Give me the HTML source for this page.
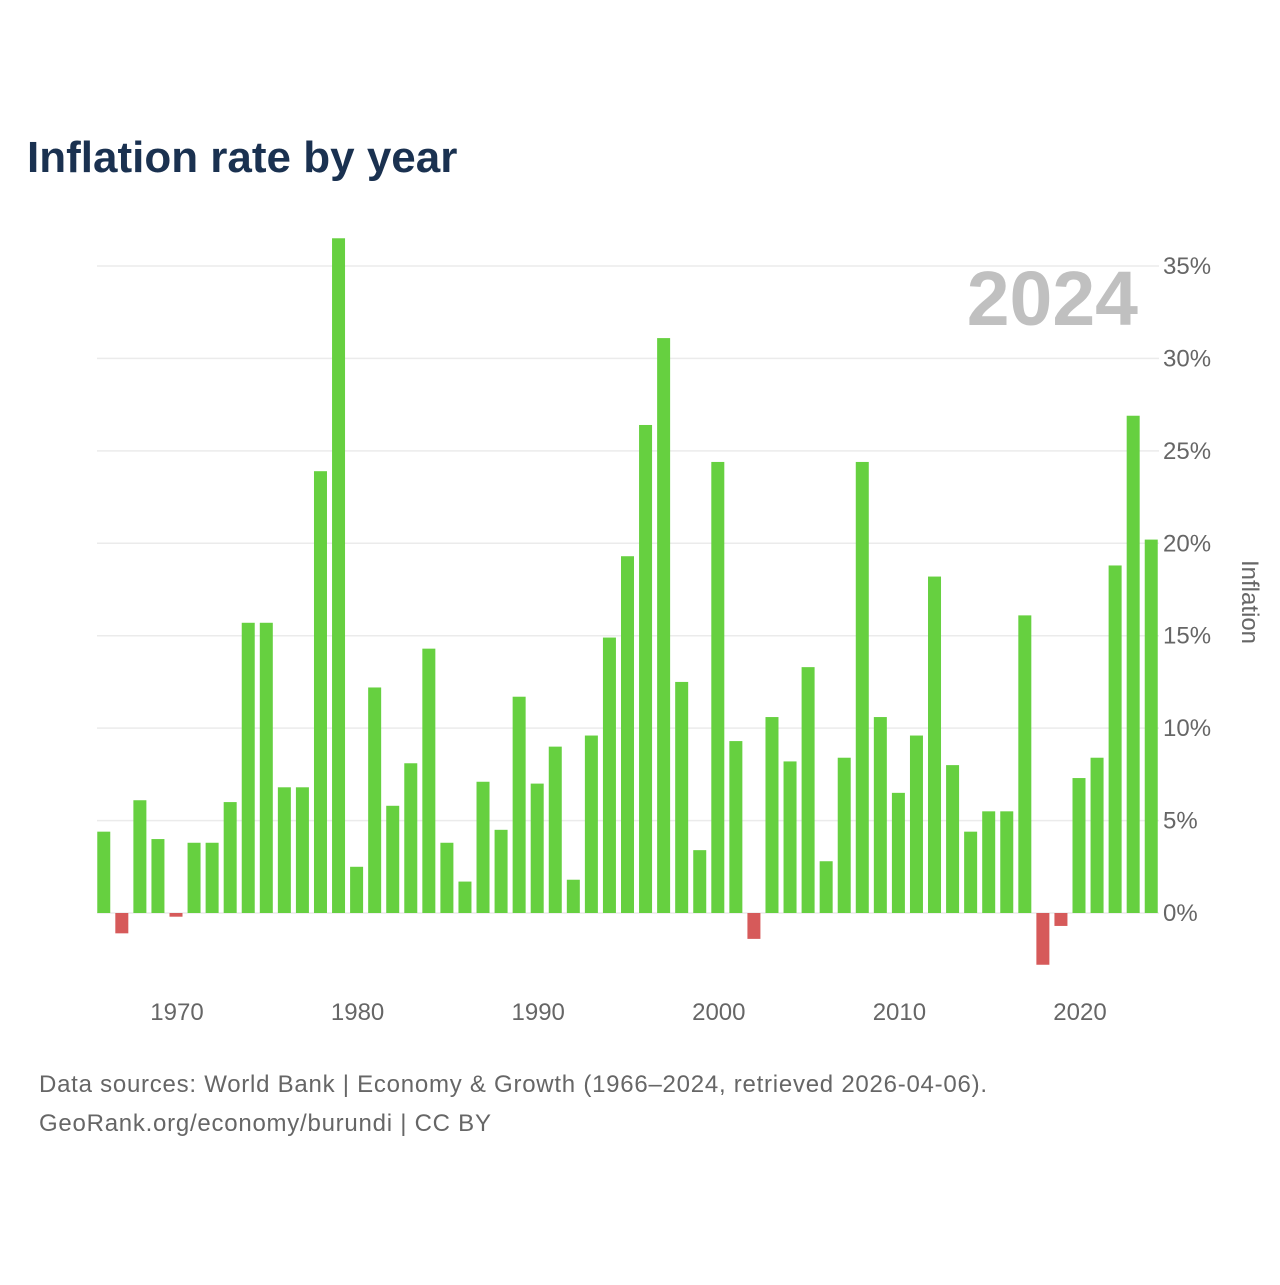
<!DOCTYPE html>
<html><head><meta charset="utf-8"><style>
body{margin:0;background:#fff;width:1280px;height:1280px;overflow:hidden;font-family:"Liberation Sans",sans-serif}
</style></head><body>
<svg id="chart" width="1280" height="1280" xmlns="http://www.w3.org/2000/svg">
<text x="27" y="172" font-size="44" font-weight="bold" fill="#1a3150" font-family="Liberation Sans, sans-serif">Inflation rate by year</text>
<g id="grid"></g>
<g id="bars"></g>
<g id="xticks"></g>
<g id="yticks"></g>
<text x="1138" y="325" text-anchor="end" font-size="77" font-weight="bold" fill="#c0c0c0">2024</text>
<text transform="translate(1242,602) rotate(90)" text-anchor="middle" font-size="24" fill="#666">Inflation</text>
<text x="39" y="1092" font-size="24" fill="#666" letter-spacing="0.75">Data sources: World Bank | Economy &amp; Growth (1966–2024, retrieved 2026-04-06).</text>
<text x="39" y="1131" font-size="24" fill="#666" letter-spacing="0.75">GeoRank.org/economy/burundi | CC BY</text>
</svg>
<script>
const years=[];for(let y=1966;y<=2024;y++)years.push(y);
const values=[4.4,-1.1,6.1,4.0,-0.2,3.8,3.8,6.0,15.7,15.7,6.8,6.8,23.9,36.5,2.5,12.2,5.8,8.1,14.3,3.8,1.7,7.1,4.5,11.7,7.0,9.0,1.8,9.6,14.9,19.3,26.4,31.1,12.5,3.4,24.4,9.3,-1.4,10.6,8.2,13.3,2.8,8.4,24.4,10.6,6.5,9.6,18.2,8.0,4.4,5.5,5.5,16.1,-2.8,-0.7,7.3,8.4,18.8,26.9,20.2];
const yTicks=[0,5,10,15,20,25,30,35];
const xTicks=[1970,1980,1990,2000,2010,2020];
const NS="http://www.w3.org/2000/svg";
const yS=v=>913-v*(647/35);
const xS=yr=>177+(yr-1970)*18.06;
const bw=13;
function mk(tag,attrs,parent){const e=document.createElementNS(NS,tag);for(const k in attrs)e.setAttribute(k,attrs[k]);document.getElementById(parent).appendChild(e);return e;}
yTicks.forEach(t=>{
 const l=mk('line',{x1:97,x2:1159,y1:yS(t),y2:yS(t),stroke:'#ebebeb','stroke-width':1.5},'grid');
 
 
 const tx=mk('text',{x:1163,y:yS(t)+8,'font-size':24,fill:'#666'},'yticks');
 tx.textContent=t+'%';
 
 
});
years.forEach((yr,i)=>{
 const v=values[i];
 const y0=yS(Math.max(v,0)),y1=yS(Math.min(v,0));
 const r=mk('rect',{x:xS(yr)-bw/2-1,y:y0,width:bw,height:Math.max(y1-y0,0.5),fill:v>=0?'#66d040':'#d65a5a'},'bars');
 
 
});
xTicks.forEach(t=>{
 const tx=mk('text',{x:xS(t),y:1020,'text-anchor':'middle','font-size':24,fill:'#666'},'xticks');
 tx.textContent=t;
 
 
});
</script>
</body></html>
